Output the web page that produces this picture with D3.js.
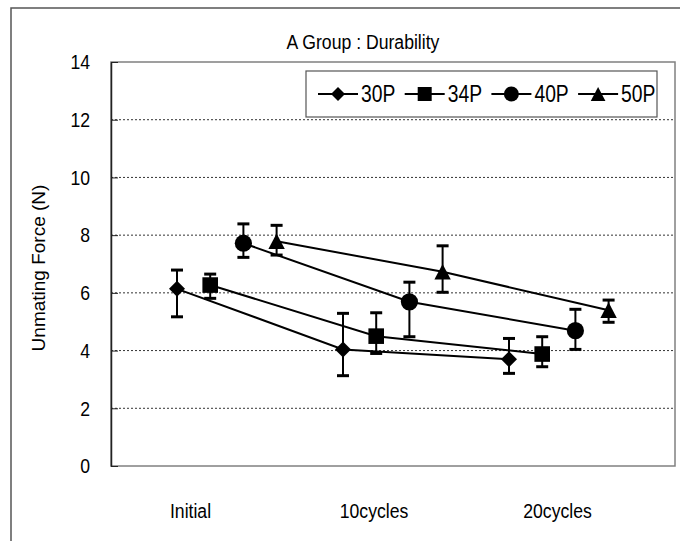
<!DOCTYPE html>
<html><head><meta charset="utf-8">
<script src="https://cdn.jsdelivr.net/npm/d3@7"></script>
<style>
html,body{margin:0;padding:0;background:#fff;}
text{font-family:"Liberation Sans",Arial,sans-serif;fill:#000;}
</style></head>
<body>
<svg id="chart" width="680" height="541"></svg>
<script>
// ---- data ----
const categories = ["Initial", "10cycles", "20cycles"];
const seriesNames = ["30P", "34P", "40P", "50P"];
const mean30 = [6.14, 4.04, 3.70];
const upper30 = [6.79, 5.29, 4.42];
const lower30 = [5.17, 3.13, 3.21];
const mean34 = [6.27, 4.50, 3.88];
const upper34 = [6.65, 5.31, 4.48];
const lower34 = [5.81, 3.90, 3.44];
const mean40 = [7.72, 5.69, 4.69];
const upper40 = [8.39, 6.37, 5.43];
const lower40 = [7.23, 4.48, 4.04];
const mean50 = [7.79, 6.73, 5.40];
const upper50 = [8.34, 7.63, 5.75];
const lower50 = [7.31, 6.02, 4.98];
const yTicks = [0, 2, 4, 6, 8, 10, 12, 14];
const titleText = "A Group : Durability";
const yLabel = "Unmating Force (N)";

const seriesData = [
  {name: "30P", mean: mean30, up: upper30, lo: lower30, shape: "diamond"},
  {name: "34P", mean: mean34, up: upper34, lo: lower34, shape: "square"},
  {name: "40P", mean: mean40, up: upper40, lo: lower40, shape: "circle"},
  {name: "50P", mean: mean50, up: upper50, lo: lower50, shape: "triangle"}
];

// ---- layout ----
const svg = d3.select("#chart");
const plot = {left: 111, top: 62, right: 675, bottom: 466};
const SX = 0.84; // horizontal text condensing

function condense(sel, sx) {
  sel.each(function() {
    const t = d3.select(this);
    const x = +t.attr("x") || 0, y = +t.attr("y") || 0;
    t.attr("transform", `translate(${x},${y}) scale(${sx},1) translate(${-x},${-y})`);
  });
}

// custom symbols (size = half-extent)
const shapes = {
  diamond: {draw(c, s) { c.moveTo(0, -s); c.lineTo(s, 0); c.lineTo(0, s); c.lineTo(-s, 0); c.closePath(); }},
  square: {draw(c, s) { c.rect(-s, -s, 2 * s, 2 * s); }},
  circle: {draw(c, s) { c.moveTo(s, 0); c.arc(0, 0, s, 0, 2 * Math.PI); }},
  triangle: {draw(c, s) { c.moveTo(0, -s); c.lineTo(s * 1.05, s); c.lineTo(-s * 1.05, s); c.closePath(); }}
};
const markerSize = {diamond: 8, square: 7.8, circle: 8.6, triangle: 7.8};
const legendMarkerSize = {diamond: 7, square: 7, circle: 7.5, triangle: 7};

// outer frame
svg.append("rect").attr("x", 11).attr("y", 8).attr("width", 700).attr("height", 560)
  .attr("fill", "none").attr("stroke", "#555").attr("stroke-width", 1.5);

// scales
const y = d3.scaleLinear().domain([0, 14]).range([plot.bottom, plot.top]);
const x = d3.scaleLinear().domain([0, 1]).range([177, 343]);
const seriesOffset = 0.2;
const xCat = d3.scalePoint().domain(categories).range([190, 557]);

// plot frame
svg.append("rect").attr("x", plot.left).attr("y", plot.top)
  .attr("width", plot.right - plot.left).attr("height", plot.bottom - plot.top)
  .attr("fill", "none").attr("stroke", "#808080").attr("stroke-width", 1.5);

// gridlines
svg.append("g").selectAll("line").data(yTicks.filter(d => d > 0 && d < 14)).join("line")
  .attr("x1", plot.left).attr("x2", plot.right)
  .attr("y1", d => y(d)).attr("y2", d => y(d))
  .attr("stroke", "#333").attr("stroke-width", 1).attr("stroke-dasharray", "2,2");

// y axis
const yAxis = svg.append("g").attr("transform", `translate(${plot.left},0)`)
  .call(d3.axisLeft(y).tickValues(yTicks).tickFormat(d3.format("d")).tickSizeInner(-7).tickSizeOuter(0).tickPadding(21));
yAxis.select(".domain").attr("stroke", "#222").attr("stroke-width", 1.5);
yAxis.selectAll(".tick line").attr("stroke", "#222").attr("stroke-width", 1);
yAxis.selectAll(".tick text").attr("font-size", 21).attr("font-family", null);
condense(yAxis.selectAll(".tick text"), SX);

// x category labels
const xAxis = svg.append("g").attr("transform", `translate(0,${plot.bottom})`)
  .call(d3.axisBottom(xCat).tickSize(0).tickPadding(37));
xAxis.select(".domain").remove();
xAxis.selectAll(".tick text").attr("font-size", 21).attr("font-family", null);
condense(xAxis.selectAll(".tick text"), SX);

// title
svg.append("text").attr("x", 363).attr("y", 49).attr("text-anchor", "middle")
  .attr("font-size", 21).text(titleText).call(condense, SX);

// y label
svg.append("text").attr("transform", "translate(45,268) rotate(-90)")
  .attr("text-anchor", "middle").attr("font-size", 19).text(yLabel);

// series
const line = d3.line().x(d => x(d.pos)).y(d => y(d.v));
seriesData.forEach((s, si) => {
  const pts = s.mean.map((v, i) => ({pos: i + si * seriesOffset, v, up: s.up[i], lo: s.lo[i]}));
  const g = svg.append("g");
  g.append("path").datum(pts).attr("d", line).attr("fill", "none")
    .attr("stroke", "#000").attr("stroke-width", 2);
  // error bars
  const eb = g.selectAll(".eb").data(pts).join("g");
  eb.append("line").attr("x1", d => x(d.pos)).attr("x2", d => x(d.pos))
    .attr("y1", d => y(d.up)).attr("y2", d => y(d.lo)).attr("stroke", "#000").attr("stroke-width", 2);
  eb.append("line").attr("x1", d => x(d.pos) - 6).attr("x2", d => x(d.pos) + 6)
    .attr("y1", d => y(d.up)).attr("y2", d => y(d.up)).attr("stroke", "#000").attr("stroke-width", 3);
  eb.append("line").attr("x1", d => x(d.pos) - 6).attr("x2", d => x(d.pos) + 6)
    .attr("y1", d => y(d.lo)).attr("y2", d => y(d.lo)).attr("stroke", "#000").attr("stroke-width", 3);
  // markers
  g.selectAll(".mk").data(pts).join("path")
    .attr("transform", d => `translate(${x(d.pos)},${y(d.v)})`)
    .attr("d", d3.symbol().type(shapes[s.shape]).size(markerSize[s.shape]))
    .attr("fill", "#000");
});

// legend
const legend = svg.append("g");
legend.append("rect").attr("x", 306).attr("y", 71).attr("width", 351).attr("height", 46)
  .attr("fill", "#fff").attr("stroke", "#555").attr("stroke-width", 1.2);
seriesData.forEach((s, i) => {
  const lx = 318 + i * 86.7, ly = 94;
  legend.append("line").attr("x1", lx).attr("x2", lx + 40).attr("y1", ly).attr("y2", ly)
    .attr("stroke", "#000").attr("stroke-width", 2);
  legend.append("path").attr("transform", `translate(${lx + 20},${ly})`)
    .attr("d", d3.symbol().type(shapes[s.shape]).size(legendMarkerSize[s.shape])).attr("fill", "#000");
  legend.append("text").attr("x", lx + 43).attr("y", ly).attr("dy", "0.36em")
    .attr("font-size", 23).text(s.name).call(condense, SX);
});
</script>
</body></html>
